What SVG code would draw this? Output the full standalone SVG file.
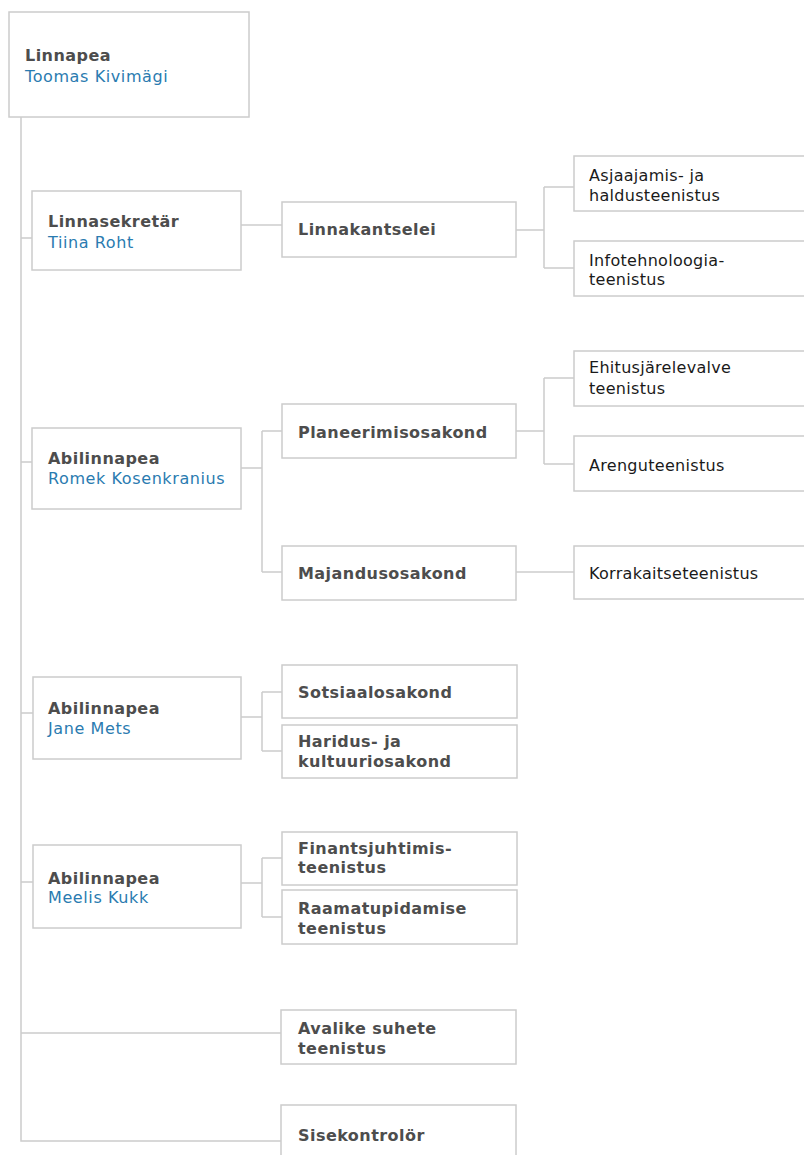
<svg xmlns="http://www.w3.org/2000/svg" width="804" height="1155" viewBox="0 0 804 1155">
<style>
.box{fill:#fff;stroke:#cccccc;stroke-width:1.5}
.ln{fill:none;stroke:#cccccc;stroke-width:1.5}
text{font-family:"DejaVu Sans",Verdana,sans-serif;font-size:16px}
.t{font-weight:bold;fill:#4d4d4d;letter-spacing:0.45px}
.n{fill:#2a7bb0;letter-spacing:0.6px}
.s{fill:#1a1a1a;letter-spacing:0.3px}
</style>
<rect width="804" height="1155" fill="#fff"/>
<g id="connectors">
<path class="ln" d="M21,117 V1141 H281"/>
<path class="ln" d="M21,238 H32 M21,462 H32 M21,713 H33 M21,882 H33 M21,1033 H281"/>
<path class="ln" d="M241,225 H282"/>
<path class="ln" d="M516,230 H544 M544,187 V268 M544,187 H574 M544,268 H574"/>
<path class="ln" d="M241,468 H262 M262,431 V572 M262,431 H282 M262,572 H282"/>
<path class="ln" d="M516,431 H544 M544,378 V464 M544,378 H574 M544,464 H574"/>
<path class="ln" d="M516,572 H574"/>
<path class="ln" d="M241,717 H262 M262,692 V751 M262,692 H282 M262,751 H282"/>
<path class="ln" d="M241,883 H262 M262,858 V917 M262,858 H282 M262,917 H282"/>
</g>
<g id="linnapea"><rect class="box" x="9" y="12" width="240" height="105"/><text class="t" x="25" y="61">Linnapea</text><text class="n" x="25" y="82">Toomas Kivimägi</text></g>
<g id="linnasekretar"><rect class="box" x="32" y="191" width="209" height="79"/><text class="t" x="48" y="227">Linnasekretär</text><text class="n" x="48" y="248">Tiina Roht</text></g>
<g id="abilinnapea-romek"><rect class="box" x="32" y="428" width="209" height="81"/><text class="t" x="48" y="464">Abilinnapea</text><text class="n" x="48" y="484">Romek Kosenkranius</text></g>
<g id="abilinnapea-jane"><rect class="box" x="33" y="677" width="208" height="82"/><text class="t" x="48" y="714">Abilinnapea</text><text class="n" x="48" y="734">Jane Mets</text></g>
<g id="abilinnapea-meelis"><rect class="box" x="33" y="845" width="208" height="83"/><text class="t" x="48" y="884">Abilinnapea</text><text class="n" x="48" y="903">Meelis Kukk</text></g>
<g id="linnakantselei"><rect class="box" x="282" y="202" width="234" height="55"/><text class="t" x="298" y="235">Linnakantselei</text></g>
<g id="planeerimisosakond"><rect class="box" x="282" y="404" width="234" height="54"/><text class="t" x="298" y="438">Planeerimisosakond</text></g>
<g id="majandusosakond"><rect class="box" x="282" y="546" width="234" height="54"/><text class="t" x="298" y="579">Majandusosakond</text></g>
<g id="sotsiaalosakond"><rect class="box" x="282" y="665" width="235" height="53"/><text class="t" x="298" y="698">Sotsiaalosakond</text></g>
<g id="haridus"><rect class="box" x="282" y="725" width="235" height="53"/><text class="t" x="298" y="747">Haridus- ja</text><text class="t" x="298" y="767">kultuuriosakond</text></g>
<g id="finants"><rect class="box" x="282" y="832" width="235" height="53"/><text class="t" x="298" y="854">Finantsjuhtimis-</text><text class="t" x="298" y="873">teenistus</text></g>
<g id="raamatupidamise"><rect class="box" x="282" y="890" width="235" height="54"/><text class="t" x="298" y="914">Raamatupidamise</text><text class="t" x="298" y="934">teenistus</text></g>
<g id="avalike"><rect class="box" x="281" y="1010" width="235" height="54"/><text class="t" x="298" y="1034">Avalike suhete</text><text class="t" x="298" y="1054">teenistus</text></g>
<g id="sisekontrolor"><rect class="box" x="281" y="1105" width="235" height="60"/><text class="t" x="298" y="1141">Sisekontrolör</text></g>
<g id="asjaajamis"><rect class="box" x="574" y="156" width="246" height="55"/><text class="s" x="589" y="181">Asjaajamis- ja</text><text class="s" x="589" y="201">haldusteenistus</text></g>
<g id="infotehnoloogia"><rect class="box" x="574" y="241" width="246" height="55"/><text class="s" x="589" y="266">Infotehnoloogia-</text><text class="s" x="589" y="285">teenistus</text></g>
<g id="ehitusjarelevalve"><rect class="box" x="574" y="351" width="246" height="55"/><text class="s" x="589" y="373">Ehitusjärelevalve</text><text class="s" x="589" y="394">teenistus</text></g>
<g id="arenguteenistus"><rect class="box" x="574" y="436" width="246" height="55"/><text class="s" x="589" y="471">Arenguteenistus</text></g>
<g id="korrakaitseteenistus"><rect class="box" x="574" y="546" width="246" height="53"/><text class="s" x="589" y="579">Korrakaitseteenistus</text></g>
</svg>
